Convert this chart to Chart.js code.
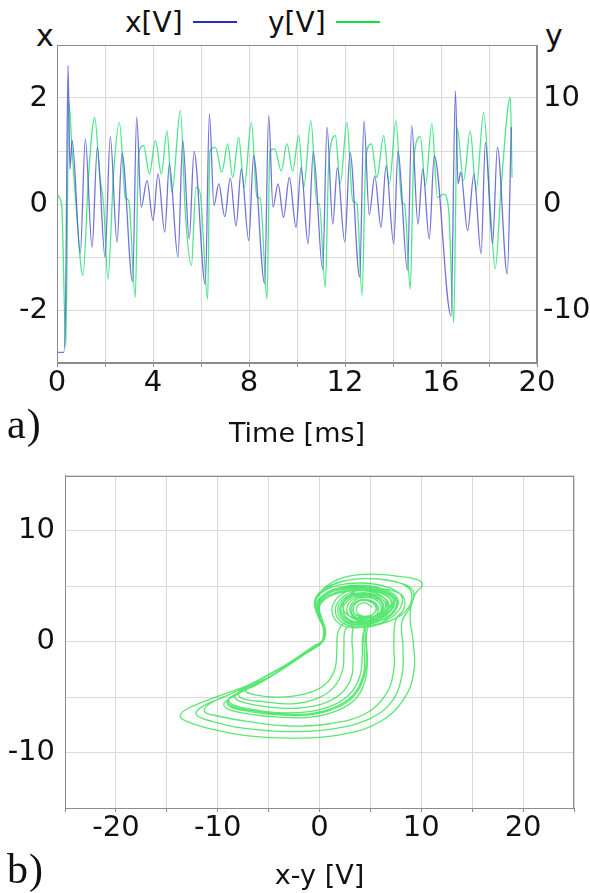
<!DOCTYPE html>
<html>
<head>
<meta charset="utf-8">
<script src="https://cdn.jsdelivr.net/npm/chart.js@4.4.0/dist/chart.umd.min.js"></script>
<style>
  body { margin: 0; background: #fff; }
  #page { position: relative; width: 590px; height: 893px; font-family: 'DejaVu Sans', sans-serif; color: #111; }
  .box { position: absolute; left: 0; width: 590px; }
  .lbl { position: absolute; white-space: nowrap; line-height: 1; }
  .key { position: absolute; height: 2px; width: 44px; }
  .tag { font-family: 'Liberation Serif', serif; font-size: 42px; letter-spacing: 1px; }
</style>
</head>
<body>
<div id="page">
  <div class="lbl" style="left:125px; top:9px; font-size:28px;">x[V]</div>
  <div class="key" style="left:193px; top:21px; background:#2b2bc8;"></div>
  <div class="lbl" style="left:268px; top:9px; font-size:28px;">y[V]</div>
  <div class="key" style="left:336px; top:21px; background:#10e040;"></div>
  <div class="lbl" style="left:36px; top:21px; font-size:30px;">x</div>
  <div class="lbl" style="left:545px; top:21px; font-size:30px;">y</div>

  <div class="box" style="top:0; height:455px;"><canvas id="timeChart"></canvas></div>
  <div class="box" style="top:455px; height:438px;"><canvas id="phaseChart"></canvas></div>

  <div class="lbl tag" style="left:7px; top:403px;">a)</div>
  <div class="lbl tag" style="left:7px; top:848px;">b)</div>
</div>

<script>
// a) time traces, [time ms, value]
var xTrace = [
  [0.0,-2.8],[0.28,-2.8],[0.36,-1.8],[0.46,2.61],[0.54,0.66],[0.63,1.2],[0.97,-0.93],[1.18,1.23],
  [1.46,-0.82],[1.68,1.07],[2.0,-1.0],[2.22,1.27],[2.5,-0.72],[2.71,0.96],[3.15,-1.46],[3.32,1.64],
  [3.51,-0.06],[3.75,0.44],[4.0,-0.31],[4.21,0.57],[4.49,-0.53],[4.68,0.75],[5.04,-1.0],[5.24,1.2],
  [5.51,-0.66],[5.71,0.99],[6.18,-1.52],[6.35,1.70],[6.54,-0.03],[6.74,0.38],[6.99,-0.24],[7.22,0.49],
  [7.46,-0.41],[7.68,0.66],[7.99,-0.69],[8.19,0.91],[8.65,-1.50],[8.82,1.67],[9.0,-0.06],[9.21,0.38],
  [9.44,-0.25],[9.68,0.5],[9.96,-0.44],[10.17,0.69],[10.46,-0.75],[10.68,0.99],[11.07,-1.23],[11.25,1.45],
  [11.49,-0.38],[11.68,0.68],[11.99,-0.72],[12.21,0.97],[12.61,-1.38],[12.79,1.57],[13.01,-0.2],[13.24,0.53],
  [13.5,-0.44],[13.71,0.72],[14.03,-0.75],[14.21,1.0],[14.6,-1.25],[14.78,1.48],[15.04,-0.38],[15.24,0.66],
  [15.51,-0.66],[15.72,0.91],[16.42,-2.11],[16.6,2.13],[16.71,0.38],[16.82,0.6],[17.11,-0.5],[17.37,0.57],
  [17.67,-0.94],[17.85,1.16],[18.15,-0.75],[18.35,1.07],[18.76,-1.32],[18.93,1.45]
];
var yTrace = [
  [0.0,0.9],[0.1,0.6],[0.2,-0.3],[0.37,-13.5],[0.49,9.75],[0.62,5.35],[0.79,0.0],[1.08,-6.76],
  [1.32,2.8],[1.57,8.18],[1.78,2.67],[1.95,-0.3],[2.12,-7.1],[2.36,3.0],[2.6,7.7],[2.85,0.63],
  [2.99,0.3],[3.26,-8.8],[3.4,4.7],[3.61,5.5],[3.85,2.83],[4.1,5.97],[4.35,2.83],[4.58,6.9],
  [4.79,1.1],[5.14,8.8],[5.35,-0.94],[5.6,-5.8],[5.79,1.57],[5.97,0.94],[6.28,-8.96],[6.37,5.0],
  [6.6,5.35],[6.87,2.99],[7.11,5.66],[7.32,2.5],[7.57,6.29],[7.8,1.57],[8.1,7.7],[8.33,0.63],
  [8.47,0.5],[8.75,-8.96],[8.87,5.0],[9.07,5.2],[9.35,3.1],[9.58,5.7],[9.82,3.1],[10.07,6.45],
  [10.28,1.57],[10.58,7.86],[10.83,0.0],[10.93,0.0],[11.18,-7.86],[11.32,3.77],[11.6,6.45],[11.8,1.89],
  [12.08,7.7],[12.32,0.3],[12.5,0.0],[12.71,-8.65],[12.87,4.4],[13.1,5.66],[13.33,2.5],[13.61,6.45],
  [13.85,1.89],[14.12,7.86],[14.37,0.16],[14.48,0.0],[14.72,-8.0],[14.86,4.1],[15.14,6.35],[15.35,1.73],
  [15.62,7.55],[15.85,0.63],[16.11,0.94],[16.32,-0.6],[16.53,-11.2],[16.67,7.2],[16.94,2.2],[17.22,6.9],
  [17.46,1.26],[17.78,8.65],[18.06,-0.63],[18.26,-6.1],[18.51,1.73],[18.89,10.06],[18.96,2.5]
];

// b) phase portrait, [x-y, y]
var phaseXY = [
  [0.3,0.1],[0.4,1.1],[-0.1,2.3],[-0.3,3.4],[0.5,4.3],[2.0,4.9],[4.0,5.0],[6.0,4.7],[7.3,4.0],[7.2,3.0],
  [6.0,2.1],[4.4,1.7],[2.9,1.9],[2.1,2.8],[2.6,3.8],[4.0,4.3],[5.6,4.1],[6.5,3.4],[6.0,2.5],[4.8,2.1],
  [3.6,2.2],[3.1,2.9],[3.6,3.6],[4.6,3.8],[5.6,3.4],[5.7,2.6],[5.0,2.0],[4.5,1.0],[4.6,-1.0],[4.4,-3.1],
  [3.4,-4.9],[1.6,-6.0],[-1.0,-6.6],[-4.0,-6.6],[-6.8,-6.3],[-8.7,-5.9],[-9.1,-5.4],[-8.3,-4.8],[-6.0,-3.8],
  [-3.5,-2.4],[-1.2,-1.0],[0.3,0.0],
  [0.5,1.0],[0.1,2.2],[-0.2,3.3],[0.6,4.2],[2.2,4.8],[4.2,4.9],[6.2,4.6],[7.5,3.9],[7.3,2.8],[6.0,1.9],
  [4.3,1.5],[2.7,1.7],[1.8,2.7],[2.4,3.9],[3.9,4.4],[5.7,4.2],[6.8,3.5],[6.4,2.4],[5.0,1.9],[4.3,0.8],
  [4.2,-1.2],[4.0,-3.0],[3.1,-4.6],[1.4,-5.7],[-1.0,-6.3],[-4.0,-6.4],[-6.6,-6.1],[-8.5,-5.7],[-8.9,-5.2],
  [-8.0,-4.6],[-5.8,-3.6],[-3.4,-2.3],[-1.1,-0.9],[0.3,0.0],
  [0.6,0.9],[0.2,2.1],[-0.1,3.2],[0.7,4.1],[2.3,4.6],[4.3,4.7],[6.1,4.4],[7.1,3.7],[6.9,2.7],[5.6,1.9],
  [3.8,1.6],[2.6,1.2],[2.4,-0.5],[2.3,-2.4],[1.5,-4.0],[-0.2,-5.1],[-2.8,-5.6],[-5.5,-5.4],[-7.6,-5.1],
  [-8.0,-4.6],[-7.0,-4.1],[-5.0,-3.2],[-2.8,-1.9],[-0.9,-0.7],[0.3,0.0],
  [0.5,1.1],[0.0,2.4],[-0.4,3.5],[0.3,4.5],[1.9,5.1],[4.0,5.3],[6.4,5.0],[8.0,4.2],[7.9,3.0],[6.5,1.9],
  [4.6,1.4],[2.7,1.5],[1.6,2.5],[2.0,3.8],[3.6,4.6],[5.6,4.5],[7.0,3.8],[6.9,2.7],[5.6,2.0],[4.0,1.9],
  [2.8,2.5],[2.9,3.5],[4.1,4.1],[5.6,3.9],[6.2,3.1],[5.4,2.3],[4.2,2.2],[3.3,2.7],[3.6,3.5],[4.7,3.7],
  [5.5,3.2],[5.3,2.5],[4.3,2.2],[3.0,2.3],[2.3,3.1],[2.9,4.2],[4.6,4.8],[6.8,4.7],[8.2,4.1],[8.3,3.0],
  [7.5,2.0],[7.3,0.0],[7.3,-2.5],[6.5,-4.8],[4.5,-6.5],[1.0,-7.4],[-3.0,-7.6],[-7.0,-7.2],[-10.0,-6.7],
  [-11.3,-6.3],[-10.8,-5.6],[-8.5,-4.6],[-5.5,-3.2],[-2.6,-1.7],[-0.4,-0.3],[0.3,0.1],
  [0.4,1.2],[-0.2,2.4],[-0.5,3.6],[0.2,4.6],[2.0,5.4],[4.5,5.7],[7.0,5.5],[8.8,4.8],[9.0,3.6],[8.0,2.4],
  [6.0,1.6],[4.2,1.3],[2.4,1.4],[1.3,2.4],[1.6,3.8],[3.2,4.7],[5.4,4.8],[7.2,4.2],[7.6,3.1],[6.6,2.1],
  [5.0,1.6],[4.6,0.5],[4.7,-1.5],[4.5,-3.4],[3.6,-5.1],[1.8,-6.2],[-0.8,-6.8],[-4.0,-6.8],[-7.0,-6.5],
  [-8.9,-6.1],[-9.4,-5.6],[-8.6,-5.0],[-6.3,-3.9],[-3.7,-2.5],[-1.3,-1.0],[0.3,0.0],
  [0.5,1.0],[0.1,2.2],[-0.2,3.3],[0.5,4.2],[2.1,4.7],[4.1,4.8],[6.0,4.5],[7.0,3.8],[6.7,2.8],[5.3,2.0],
  [3.6,1.8],[3.2,0.5],[3.3,-1.5],[3.1,-3.3],[2.1,-4.7],[0.3,-5.6],[-2.3,-6.0],[-5.0,-5.9],[-7.4,-5.5],
  [-8.3,-5.0],[-7.5,-4.4],[-5.3,-3.4],[-3.0,-2.1],[-1.0,-0.8],[0.3,0.0],
  [0.4,1.1],[-0.1,2.3],[-0.4,3.5],[0.4,4.8],[2.4,5.8],[5.0,6.1],[7.8,5.9],[9.6,5.6],[10.1,5.1],[9.4,4.3],
  [8.9,2.5],[9.2,0.0],[9.3,-2.5],[8.4,-5.0],[6.0,-7.2],[2.0,-8.4],[-2.5,-8.7],[-7.0,-8.5],[-10.5,-7.9],
  [-13.0,-7.2],[-13.7,-6.7],[-12.9,-6.0],[-10.2,-5.0],[-7.0,-3.9],[-4.0,-2.5],[-1.5,-1.0],[0.3,0.0],
  [0.5,1.1],[0.0,2.3],[-0.3,3.4],[0.5,4.3],[2.0,4.9],[4.0,5.1],[6.1,4.8],[7.6,4.0],[7.5,2.9],[6.2,2.0],
  [4.4,1.6],[2.8,1.8],[2.0,2.7],[2.5,3.8],[4.0,4.4],[5.7,4.2],[6.7,3.5],[6.3,2.5],[5.0,2.0],[3.8,2.0],
  [3.0,2.7],[3.3,3.6],[4.5,4.0],[5.8,3.6],[6.0,2.7],[5.2,2.1],[4.4,1.2],[4.4,-0.9],[4.3,-3.0],[3.3,-4.8],
  [1.5,-5.9],[-1.0,-6.5],[-4.0,-6.5],[-6.7,-6.2],[-8.6,-5.8],[-9.0,-5.3],[-8.2,-4.7],[-5.9,-3.7],
  [-3.4,-2.3],[-1.2,-0.9],[0.3,0.0],
  [0.6,1.0],[0.2,2.2],[0.0,3.2],[0.8,4.0],[2.4,4.5],[4.4,4.6],[6.0,4.2],[6.6,3.4],[6.0,2.4],[4.4,1.8],
  [2.5,1.7],[1.8,0.8],[1.7,-0.8],[1.5,-2.5],[0.5,-3.9],[-1.4,-4.7],[-4.0,-5.0],[-6.3,-4.8],[-7.3,-4.4],
  [-6.6,-3.9],[-4.6,-3.0],[-2.6,-1.8],[-0.8,-0.6],[0.3,0.0],
  [0.4,1.2],[-0.2,2.5],[-0.4,3.7],[0.5,4.7],[2.5,5.5],[5.0,5.7],[7.6,5.4],[9.2,4.6],[9.0,3.3],[8.1,1.8],
  [8.2,-0.5],[8.1,-3.0],[7.1,-5.4],[4.8,-7.0],[1.0,-7.9],[-3.5,-8.1],[-7.5,-7.8],[-10.5,-7.2],[-12.1,-6.6],
  [-11.6,-5.9],[-9.2,-4.9],[-6.0,-3.5],[-3.0,-1.9],[-0.6,-0.4],[0.3,0.1],
  [0.5,1.0],[0.0,2.2],[-0.3,3.3],[0.5,4.2],[2.1,4.8],[4.1,4.9],[6.0,4.6],[7.2,3.9],[7.0,2.9],[5.8,2.1],
  [4.2,1.8],[2.9,2.0],[2.3,2.9],[2.9,3.8],[4.3,4.2],[5.8,3.9],[6.3,3.1],[5.6,2.4],[4.4,2.2],[3.4,2.6],
  [3.5,3.4],[4.6,3.8],[5.6,3.3],[5.4,2.6],[4.6,2.3],[3.8,2.5],[3.7,3.2],[4.5,3.5],[5.2,3.1]
];

var tickFont = { family: 'DejaVu Sans', size: 29, lineHeight: 1 };
var titleFont = { family: 'DejaVu Sans', size: 27 };
var gridColor = '#dadada';
var edgeColor = '#8c8c8c';

function toPts(arr) {
  return arr.map(function (p) { return { x: p[0], y: p[1] }; });
}
function every(n) {
  return function (v) { return Math.abs(v % n) < 1e-9 ? v : ''; };
}

// box round the plot area (top and right edges too)
var frame = {
  id: 'frame',
  afterDraw: function (chart) {
    var a = chart.chartArea, c = chart.ctx;
    c.save();
    c.strokeStyle = edgeColor;
    c.lineWidth = 1;
    c.strokeRect(Math.round(a.left) + 0.5, Math.round(a.top) + 0.5,
                 Math.round(a.right - a.left) - 1, Math.round(a.bottom - a.top) - 1);
    c.restore();
  }
};

Chart.defaults.font.family = 'DejaVu Sans';
Chart.defaults.color = '#111';

new Chart(document.getElementById('timeChart'), {
  type: 'scatter',
  data: {
    datasets: [{
      label: 'x[V]',
      data: toPts(xTrace),
      yAxisID: 'yL',
      showLine: true,
      borderColor: 'rgba(80, 80, 210, 0.8)',
      borderWidth: 1.3,
      pointRadius: 0,
      cubicInterpolationMode: 'monotone'
    }, {
      label: 'y[V]',
      data: toPts(yTrace),
      yAxisID: 'yR',
      showLine: true,
      borderColor: 'rgba(30, 225, 110, 0.8)',
      borderWidth: 1.3,
      pointRadius: 0,
      cubicInterpolationMode: 'monotone'
    }]
  },
  options: {
    responsive: true, maintainAspectRatio: false,
    animation: false,
    layout: { padding: { top: 45, left: 0, right: 0, bottom: 0 } },
    plugins: { legend: { display: false }, tooltip: { enabled: false } },
    scales: {
      x: {
        type: 'linear', min: 0, max: 20,
        ticks: { stepSize: 2, autoSkip: false, maxRotation: 0, padding: 2, font: tickFont, callback: every(4) },
        grid: { color: gridColor, tickLength: 4, tickColor: edgeColor },
        border: { color: edgeColor },
        title: { display: true, text: 'Time [ms]', font: titleFont, padding: { top: 0, bottom: 4 } },
        afterFit: function (s) { s.height = 92; }
      },
      yL: {
        position: 'left', min: -3, max: 3,
        ticks: { stepSize: 1, autoSkip: false, padding: 5, font: tickFont, callback: every(2) },
        grid: { color: gridColor, tickLength: 4, tickColor: 'rgba(0,0,0,0)' },
        border: { color: edgeColor },
        afterFit: function (s) { s.width = 57; }
      },
      yR: {
        position: 'right', min: -15, max: 15,
        ticks: { stepSize: 5, autoSkip: false, padding: 6, font: tickFont, callback: every(10) },
        grid: { display: false, drawTicks: false },
        border: { color: edgeColor },
        afterFit: function (s) { s.width = 53; }
      }
    }
  },
  plugins: [frame]
});

new Chart(document.getElementById('phaseChart'), {
  type: 'scatter',
  data: {
    datasets: [{
      label: 'x-y',
      data: toPts(phaseXY),
      showLine: true,
      borderColor: 'rgba(0, 220, 40, 0.65)',
      borderWidth: 1.3,
      pointRadius: 0,
      tension: 0.4
    }]
  },
  options: {
    responsive: true, maintainAspectRatio: false,
    animation: false,
    layout: { padding: { top: 19, left: 0, right: 16, bottom: 0 } },
    plugins: { legend: { display: false }, tooltip: { enabled: false } },
    scales: {
      x: {
        type: 'linear', min: -25, max: 25,
        ticks: { stepSize: 5, autoSkip: false, maxRotation: 0, padding: 2, font: tickFont, callback: every(10) },
        grid: { color: gridColor, tickLength: 4, tickColor: edgeColor },
        border: { color: edgeColor },
        title: { display: true, text: 'x-y [V]', font: titleFont, padding: { top: 0, bottom: 0 } },
        afterFit: function (s) { s.height = 85; }
      },
      y: {
        min: -15, max: 15,
        ticks: { stepSize: 5, autoSkip: false, padding: 6, font: tickFont, callback: every(10) },
        grid: { color: gridColor, tickLength: 4, tickColor: 'rgba(0,0,0,0)' },
        border: { color: edgeColor },
        afterFit: function (s) { s.width = 65; }
      }
    }
  },
  plugins: [frame]
});
</script>
</body>
</html>
